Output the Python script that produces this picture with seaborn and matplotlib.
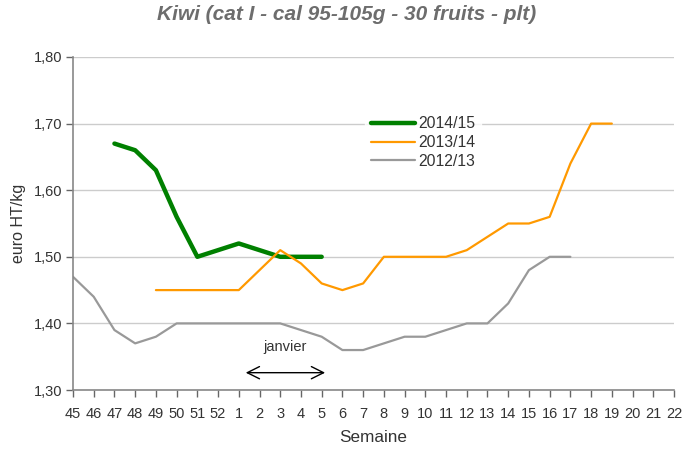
import numpy as np
import pandas as pd
import matplotlib
matplotlib.use("Agg")
import matplotlib.pyplot as plt
import seaborn as sns

# week labels (45..52 then 1..22)
weeks = [str(w) for w in range(45, 53)] + [str(w) for w in range(1, 23)]

nan = np.nan
# prices in euro HT/kg, one value per week
s_2014_15 = [nan, nan, 1.67, 1.66, 1.63, 1.56, 1.50, 1.51, 1.52, 1.51, 1.50, 1.50, 1.50,
             nan, nan, nan, nan, nan, nan, nan, nan, nan, nan, nan, nan, nan, nan, nan, nan, nan]
s_2013_14 = [nan, nan, nan, nan, 1.45, 1.45, 1.45, 1.45, 1.45, 1.48, 1.51, 1.49, 1.46,
             1.45, 1.46, 1.50, 1.50, 1.50, 1.50, 1.51, 1.53, 1.55, 1.55, 1.56, 1.64, 1.70, 1.70,
             nan, nan, nan]
s_2012_13 = [1.47, 1.44, 1.39, 1.37, 1.38, 1.40, 1.40, 1.40, 1.40, 1.40, 1.40, 1.39, 1.38,
             1.36, 1.36, 1.37, 1.38, 1.38, 1.39, 1.40, 1.40, 1.43, 1.48, 1.50, 1.50,
             nan, nan, nan, nan, nan]

seasons = ["2014/15", "2013/14", "2012/13"]
colors = {"2014/15": "#008000", "2013/14": "#FF9900", "2012/13": "#999999"}
widths = {"2014/15": 3.2, "2013/14": 1.6, "2012/13": 1.6}

sns.set_style("white")
plt.rcParams['font.family'] = ['Liberation Sans', 'DejaVu Sans']

fig = plt.figure(figsize=(6.94, 4.5), dpi=100)
ax = fig.add_axes([73 / 694, 60 / 450, 601 / 694, 333 / 450])

pos = np.arange(len(weeks))
for name, vals in zip(seasons, [s_2014_15, s_2013_14, s_2012_13]):
    df = pd.DataFrame({"pos": pos, "prix": vals}).dropna()
    sns.lineplot(data=df, x="pos", y="prix", ax=ax, color=colors[name],
                 linewidth=widths[name], label=name, solid_capstyle="round")

ax.set_xlim(0, len(weeks) - 1)
ax.set_ylim(1.30, 1.80)
ax.set_xticks(pos)
ax.set_xticklabels(weeks, fontsize=10.5, color="#333333")
yt = np.arange(1.30, 1.81, 0.10)
ax.set_yticks(yt)
ax.set_yticklabels([f"{v:.2f}".replace(".", ",") for v in yt], fontsize=10.5, color="#333333")
ax.yaxis.grid(True, color="#cccccc", linewidth=1)
ax.set_axisbelow(True)
for side in ["top", "right"]:
    ax.spines[side].set_visible(False)
for side in ["left", "bottom"]:
    ax.spines[side].set_color("#888888")
    ax.spines[side].set_linewidth(1.2)
ax.tick_params(axis="both", direction="out", length=5, width=1, color="#666666", pad=3,
               bottom=True, left=True)
ax.tick_params(axis="x", pad=7)

ax.set_xlabel("Semaine", fontsize=12.3, color="#333333", labelpad=7)
ax.set_ylabel("euro HT/kg", fontsize=11.5, color="#333333", labelpad=5)

fig.suptitle("Kiwi (cat I - cal 95-105g - 30 fruits - plt)", x=0.5, y=0.988,
             fontsize=15, fontweight="bold", fontstyle="italic", color="#6d6d6d")

# janvier arrow
ax.annotate("", xy=(8.2, 1.326), xytext=(12.3, 1.326),
            arrowprops=dict(arrowstyle="<->", color="black", lw=1,
                            mutation_scale=22))
ax.text(10.25, 1.364, "janvier", ha="center", va="center", fontsize=10.5, color="#333333")

leg = ax.legend(loc="upper left", bbox_to_anchor=(0.472, 0.865), frameon=True,
                fontsize=11.3, handlelength=2.8, handletextpad=0.2, labelspacing=0.25,
                borderpad=0.4)
leg.get_frame().set_facecolor("white")
leg.get_frame().set_edgecolor("white")
for t in leg.get_texts():
    t.set_color("#333333")

fig.savefig("out.png", dpi=100)
